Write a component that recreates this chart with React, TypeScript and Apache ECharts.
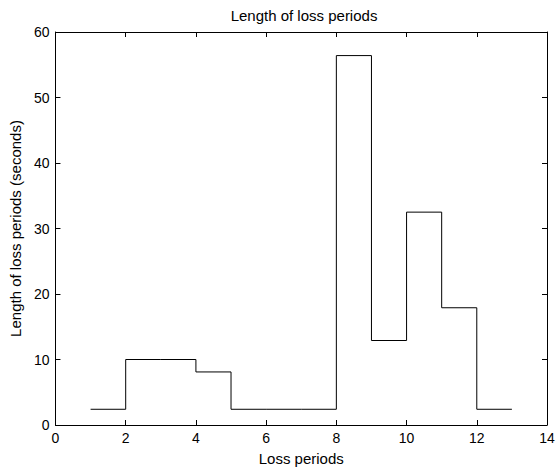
import React, { useEffect, useRef } from "react";
import * as echarts from "echarts";

const periods = [1, 2, 3, 4, 5, 6, 7, 8, 9, 10, 11, 12, 13];
const lengths = [2.4, 10, 10, 8.1, 2.4, 2.4, 2.4, 56.4, 12.9, 32.5, 17.9, 2.4, 2.4];
const titleText = "Length of loss periods";
const xName = "Loss periods";
const yName = "Length of loss periods (seconds)";

const FONT = "'Liberation Sans', Arial, Helvetica, sans-serif";

export default function App() {
  const ref = useRef<HTMLDivElement>(null);
  useEffect(() => {
    if (!ref.current) return;
    const chart = echarts.init(ref.current, null, { renderer: "svg" });
    const axisLine = { show: true, onZero: false, lineStyle: { color: "#000", width: 1 } };
    const tick = { show: true, inside: true, length: 5, lineStyle: { color: "#000" } };
    const lbl = { color: "#000", fontSize: 14, fontFamily: FONT };
    const nameStyle = { color: "#000", fontSize: 15, fontFamily: FONT };
    chart.setOption({
      animation: false,
      backgroundColor: "#fff",
      title: {
        text: titleText,
        left: 299,
        top: 3,
        textAlign: "center",
        textStyle: { color: "#000", fontSize: 15, fontWeight: "normal", fontFamily: FONT },
      },
      grid: { left: 52, right: 11, top: 32, bottom: 42, containLabel: false },
      xAxis: [
        {
          type: "value",
          min: 0,
          max: 14,
          interval: 2,
          position: "bottom",
          name: xName,
          nameLocation: "middle",
          nameGap: 26,
          nameTextStyle: nameStyle,
          axisLine,
          axisTick: tick,
          axisLabel: { ...lbl, margin: 6 },
          splitLine: { show: false },
        },
        {
          type: "value",
          min: 0,
          max: 14,
          interval: 2,
          position: "top",
          axisLine,
          axisTick: tick,
          axisLabel: { show: false },
          splitLine: { show: false },
        },
      ],
      yAxis: [
        {
          type: "value",
          min: 0,
          max: 60,
          interval: 10,
          position: "left",
          name: yName,
          nameLocation: "middle",
          nameGap: 28,
          nameTextStyle: nameStyle,
          axisLine,
          axisTick: tick,
          axisLabel: { ...lbl, margin: 6 },
          splitLine: { show: false },
        },
        {
          type: "value",
          min: 0,
          max: 60,
          interval: 10,
          position: "right",
          axisLine,
          axisTick: tick,
          axisLabel: { show: false },
          splitLine: { show: false },
        },
      ],
      series: [
        {
          type: "line",
          step: "end",
          data: periods.map((p, i) => [p, lengths[i]]),
          showSymbol: false,
          symbol: "none",
          lineStyle: { color: "#000", width: 1 },
        },
      ],
    });
    return () => chart.dispose();
  }, []);
  return (
    <div
      ref={ref}
      style={{ position: "absolute", left: 0, top: 0, width: 558, height: 471 }}
    />
  );
}
